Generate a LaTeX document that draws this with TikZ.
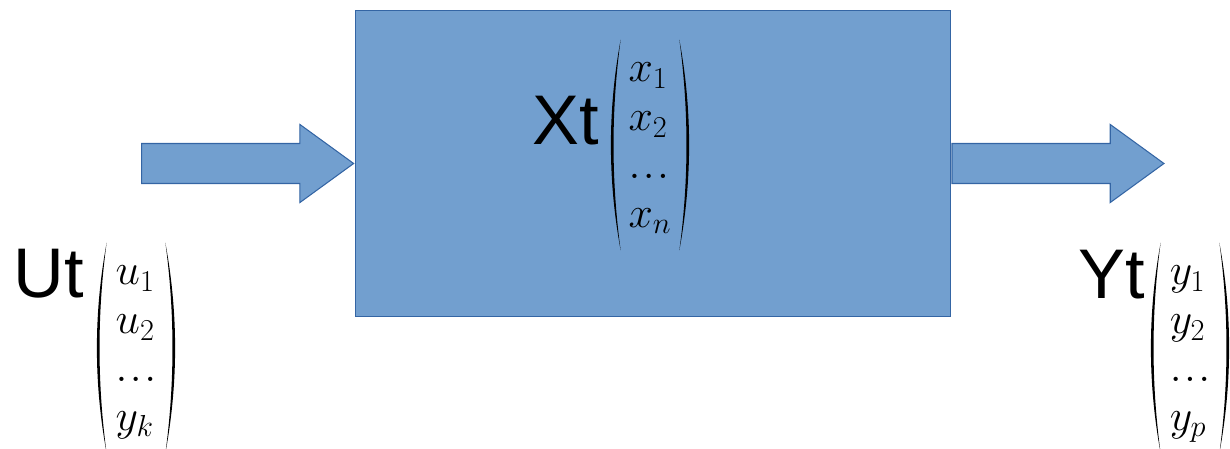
\documentclass[tikz,border=0pt]{standalone}
\usepackage{fontspec}
\setmainfont{Liberation Sans}
\usepackage{tikz}
\usetikzlibrary{shapes.arrows,positioning,calc}
\definecolor{BoxBlue}{RGB}{114,159,207}
\definecolor{EdgeBlue}{RGB}{52,101,164}

% thin round brackets drawn around a vector node
\newcommand{\vecparens}[1]{%
  \fill ($(#1.north west)+(10,0)$) .. controls ($(#1.north west)+(-3,70)$) and ($(#1.south west)+(-3,-70)$) .. ($(#1.south west)+(10,0)$)
    .. controls ($(#1.south west)+(0.5,-70)$) and ($(#1.north west)+(0.5,70)$) .. cycle;
  \fill ($(#1.north east)+(-10,0)$) .. controls ($(#1.north east)+(3,70)$) and ($(#1.south east)+(3,-70)$) .. ($(#1.south east)+(-10,0)$)
    .. controls ($(#1.south east)+(-0.5,-70)$) and ($(#1.north east)+(-0.5,70)$) .. cycle;
}
\newcommand{\vdotsrow}{.\mkern1mu.\mkern1mu.}

\tikzset{
  blockarrow/.style={single arrow, draw=EdgeBlue, fill=BoxBlue, line width=0.6pt,
    minimum height=4.24cm, inner xsep=0pt, inner ysep=0.39cm,
    single arrow head extend=0.38cm, single arrow tip angle=72,
    text height=0pt, text depth=0pt},
  bigname/.style={font=\fontsize{40}{48}\selectfont, inner sep=0pt},
  vecnode/.style={font=\fontsize{24}{27.6}\selectfont, inner sep=0pt, minimum width=1.56cm, minimum height=4.2cm}
}

\begin{document}
\begin{tikzpicture}[x=0.02cm, y=-0.02cm]
\useasboundingbox (0,0) rectangle (1230,449);
\node[draw=EdgeBlue, fill=BoxBlue, line width=0.6pt, minimum width=11.92cm, minimum height=6.14cm] (sys) at (653,163.5) {};
\node[blockarrow, anchor=tip] (uin) at (sys.west) {};
\node[blockarrow, anchor=tail] (yout) at (sys.east) {};

% state
\node[bigname, anchor=base east] (xt) at (599,145) {Xt};
\node[vecnode] (xvec) at (650,145) {$\begin{array}{@{}l@{}} x_1\\ x_2\\ \vdotsrow\\ x_n \end{array}$};
\vecparens{xvec}

% input
\node[bigname, anchor=base west] (ut) at (13,297) {Ut};
\node[vecnode] (uvec) at (136,348) {$\begin{array}{@{}l@{}} u_1\\ u_2\\ \vdotsrow\\ y_k \end{array}$};
\vecparens{uvec}

% output
\node[bigname, anchor=base west] (yt) at (1078,298) {Yt};
\node[vecnode] (yvec) at (1190,348) {$\begin{array}{@{}l@{}} y_1\\ y_2\\ \vdotsrow\\ y_p \end{array}$};
\vecparens{yvec}
\end{tikzpicture}
\end{document}
